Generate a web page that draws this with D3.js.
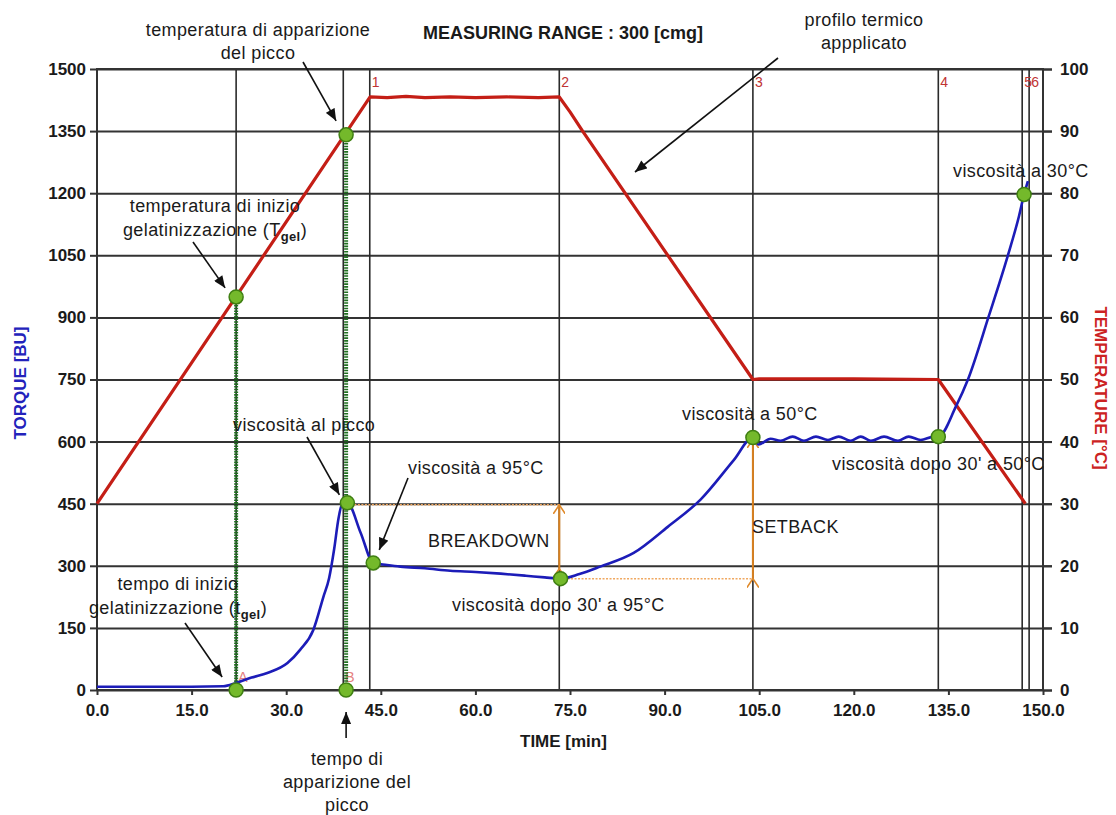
<!DOCTYPE html>
<html>
<head>
<meta charset="utf-8">
<script src="https://cdn.jsdelivr.net/npm/d3@7"></script>
<style>
    body { margin: 0; background: #fff; }
    svg { display: block; }
    text { font-family: "Liberation Sans", Arial, sans-serif; }
    .ann { font-size: 18px; fill: #1a1a1a; letter-spacing: 0.4px; }
    .tick text { font-size: 17px; font-weight: bold; fill: #1a1a1a; }
</style>
</head>
<body>
<svg id="chart" width="1116" height="815"></svg>
<script>
// ticks
let timeTicks = d3.range(0, 151, 15);
let torqueTicks = d3.range(0, 1501, 150);
let tempTicks = d3.range(0, 101, 10);

// event markers on the time axis
let eventTimes = [22.06, 39.05, 43.25, 73.3, 104.0, 133.4, 146.7, 147.8];
let eventLabels = ["A", "B", "1", "2", "3", "4", "5", "6"];

// torque curve (BU)
let torqueTime = [0, 5, 10, 15, 20, 22.06, 24.5, 27, 30.2, 32.2, 34.3, 35.9, 36.8, 37.6, 38.3, 38.9,
    39.7, 41.8, 43.8, 46, 48.1, 52, 56, 60, 64, 68, 71, 73.5, 76.5, 79.8, 85.1,
    90.5, 95.7, 101.0, 104.0, 104.9, 106.8, 108.4, 110.3, 112.1, 114.0, 115.9, 117.6, 119.5, 121.1, 122.7,
    124.8, 127.0, 128.7, 130.6, 132.7, 133.4, 136.2, 138.1, 141.4, 144.4, 146.2, 147.0, 147.6];
let torqueValue = [8, 8, 8, 8, 9, 17, 30, 41, 65, 97, 145, 225, 270, 340, 415, 450,
    452, 380, 307, 302, 298, 294, 288, 285, 281, 276, 272, 269, 280, 298, 331,
    394, 460, 556, 610, 593, 607, 602, 612, 602, 612, 604, 612, 602, 612, 602,
    612, 602, 612, 604, 612, 612, 685, 750, 903, 1048, 1145, 1197, 1229];

// applied temperature profile (°C)
let tempTime = [0, 43.3, 46, 49, 52, 56, 60, 65, 70, 73.3, 75, 77, 104.0, 105.0, 120, 133.4, 147.2];
let tempValue = [30, 95.5, 95.4, 95.6, 95.4, 95.5, 95.4, 95.5, 95.4, 95.5, 93.1, 90.0, 50, 50.1, 50.1, 50, 30];

// gelatinization points (on temperature curve)
let gelTimes = [22.06, 39.5];
let gelTemps = [63.3, 89.4];

// viscosity points (on torque curve)
let pointTimes = [39.7, 43.8, 73.5, 104.0, 133.4, 147.0];
let pointTorque = [452, 307, 269, 610, 612, 1197];

let margin = {left: 97, right: 1043, top: 69, bottom: 690};
let svg = d3.select("#chart");

let x = d3.scaleLinear().domain([0, 150]).range([margin.left, margin.right]);
let y = d3.scaleLinear().domain([0, 1500]).range([margin.bottom, margin.top]);
let yT = d3.scaleLinear().domain([0, 100]).range([margin.bottom, margin.top]);

// arrow heads
let defs = svg.append("defs");
defs.append("marker")
    .attr("id", "head")
    .attr("viewBox", "0 0 12 10")
    .attr("refX", 12).attr("refY", 5)
    .attr("markerWidth", 13).attr("markerHeight", 10)
    .attr("markerUnits", "userSpaceOnUse")
    .attr("orient", "auto")
    .append("path").attr("d", "M0,0 L12,5 L0,10 z").attr("fill", "#111");
defs.append("marker")
    .attr("id", "ohead")
    .attr("viewBox", "0 0 10 12")
    .attr("refX", 9).attr("refY", 6)
    .attr("markerWidth", 10).attr("markerHeight", 12)
    .attr("markerUnits", "userSpaceOnUse")
    .attr("orient", "auto")
    .append("path").attr("d", "M0,0 L9,6 L0,12").attr("fill", "none")
    .attr("stroke", "#e08a2a").attr("stroke-width", 1.6);

// horizontal grid, running past the right border as tick marks
let grid = svg.append("g")
    .attr("transform", "translate(" + margin.left + ",0)")
    .call(d3.axisLeft(y).tickValues(torqueTicks).tickSize(-(margin.right - margin.left + 9)).tickFormat(""));
grid.select(".domain").remove();
grid.selectAll("line").attr("stroke", "#333").attr("stroke-width", 2);

// event lines
svg.append("g").selectAll("line")
    .data(eventTimes)
    .enter().append("line")
    .attr("x1", d => x(d)).attr("x2", d => x(d))
    .attr("y1", margin.top).attr("y2", margin.bottom)
    .attr("stroke", "#2a2a2a").attr("stroke-width", 1.6);

// border
svg.append("rect")
    .attr("x", margin.left).attr("y", margin.top)
    .attr("width", margin.right - margin.left).attr("height", margin.bottom - margin.top)
    .attr("fill", "none").attr("stroke", "#333").attr("stroke-width", 2);

// axes
let leftAxis = svg.append("g")
    .attr("transform", "translate(" + margin.left + ",0)")
    .call(d3.axisLeft(y).tickValues(torqueTicks).tickSize(7).tickPadding(4).tickFormat(d3.format("d")));
let rightAxis = svg.append("g")
    .attr("transform", "translate(" + margin.right + ",0)")
    .call(d3.axisRight(yT).tickValues(tempTicks).tickSize(9).tickPadding(8));
let bottomAxis = svg.append("g")
    .attr("transform", "translate(0," + margin.bottom + ")")
    .call(d3.axisBottom(x).tickValues(timeTicks).tickSize(5).tickPadding(9).tickFormat(d3.format(".1f")));
[leftAxis, rightAxis, bottomAxis].forEach(function(a) {
    a.select(".domain").remove();
    a.selectAll("line").attr("stroke", "#333").attr("stroke-width", 2);
    a.attr("font-family", null).attr("font-size", null);
});

// event numbers
eventLabels.forEach(function(d, i) {
    let bottom = d === "A" || d === "B";
    svg.append("text")
        .attr("x", x(eventTimes[i]) + 2)
        .attr("y", bottom ? 682 : 87)
        .attr("font-size", 14)
        .attr("fill", bottom ? "#e58080" : "#c03333")
        .text(d);
});

// green dotted gel lines
gelTimes.forEach(function(t, i) {
    svg.append("line")
        .attr("x1", x(t)).attr("x2", x(t))
        .attr("y1", yT(gelTemps[i])).attr("y2", margin.bottom)
        .attr("stroke", "#1e6e1e").attr("stroke-width", 4)
        .attr("stroke-dasharray", "1.6 1.1");
});

// breakdown / setback guides
let peak = pointTorque[0], low = pointTorque[2], hold = pointTorque[3];
svg.append("line")
    .attr("x1", x(pointTimes[0])).attr("x2", x(eventTimes[3]))
    .attr("y1", y(peak) + 2).attr("y2", y(peak) + 2)
    .attr("stroke", "#f0a860").attr("stroke-width", 1.5).attr("stroke-dasharray", "2 1.5");
svg.append("line")
    .attr("x1", x(pointTimes[2])).attr("x2", x(eventTimes[4]))
    .attr("y1", y(low)).attr("y2", y(low))
    .attr("stroke", "#f0a860").attr("stroke-width", 1.5).attr("stroke-dasharray", "2 1.5");
svg.append("line")
    .attr("x1", x(eventTimes[3])).attr("x2", x(eventTimes[3]))
    .attr("y1", y(low) - 10).attr("y2", y(peak) + 2)
    .attr("stroke", "#d9801e").attr("stroke-width", 2)
    .attr("marker-start", "url(#ohead)").attr("marker-end", "url(#ohead)");
svg.append("line")
    .attr("x1", x(eventTimes[4])).attr("x2", x(eventTimes[4]))
    .attr("y1", y(low)).attr("y2", y(hold) + 2)
    .attr("stroke", "#d9801e").attr("stroke-width", 2)
    .attr("marker-start", "url(#ohead)").attr("marker-end", "url(#ohead)");

// temperature curve
let tempData = tempTime.map((t, i) => [t, tempValue[i]]);
svg.append("path")
    .datum(tempData)
    .attr("d", d3.line().x(d => x(d[0])).y(d => yT(d[1])))
    .attr("fill", "none").attr("stroke", "#c41e16").attr("stroke-width", 3.2)
    .attr("stroke-linejoin", "round");

// torque curve
let torqueData = torqueTime.map((t, i) => [t, torqueValue[i]]);
svg.append("path")
    .datum(torqueData)
    .attr("d", d3.line().curve(d3.curveMonotoneX).x(d => x(d[0])).y(d => y(d[1])))
    .attr("fill", "none").attr("stroke", "#1c1cb8").attr("stroke-width", 2.6)
    .attr("stroke-linejoin", "round");

// markers
function dot(cx, cy) {
    svg.append("circle")
        .attr("cx", cx).attr("cy", cy).attr("r", 7)
        .attr("fill", "#74b92b").attr("stroke", "#3f7f12").attr("stroke-width", 1.5);
}
gelTimes.forEach(function(t, i) {
    dot(x(t), yT(gelTemps[i]));
    dot(x(t), y(0));
});
pointTimes.forEach(function(t, i) {
    dot(x(t), y(pointTorque[i]));
});

// annotation text
function label(lines, px, py, anchor, cls) {
    let t = svg.append("text").attr("class", cls || "ann").attr("text-anchor", anchor);
    lines.forEach(function(l, i) {
        t.append("tspan").attr("x", px).attr("y", py + i * 23).text(l);
    });
    return t;
}
function subLabel(main, sub, px, py, anchor) {
    let t = svg.append("text").attr("class", "ann").attr("text-anchor", anchor)
        .attr("x", px).attr("y", py);
    t.append("tspan").text(main);
    t.append("tspan").attr("dy", 5).attr("font-size", 13).attr("font-weight", "bold").text("gel");
    t.append("tspan").attr("dy", -5).text(")");
}

label(["temperatura di apparizione", "del picco"], 258, 36, "middle");
label(["profilo termico", "appplicato"], 864, 26, "middle");
label(["temperatura di inizio"], 215, 212, "middle");
subLabel("gelatinizzazione (T", "gel", 215, 236, "middle");
label(["viscosità al picco"], 233, 431, "start");
label(["viscosità a 95°C"], 408, 474, "start");
label(["BREAKDOWN"], 428, 547, "start");
label(["viscosità dopo 30' a 95°C"], 452, 611, "start");
label(["viscosità a 50°C"], 682, 420, "start");
label(["SETBACK"], 752, 533, "start");
label(["viscosità dopo 30' a 50°C"], 832, 470, "start");
label(["viscosità a 30°C"], 953, 177, "start");
label(["tempo di inizio"], 178, 590, "middle");
subLabel("gelatinizzazione (t", "gel", 178, 614, "middle");
label(["tempo di", "apparizione del", "picco"], 347, 765, "middle");

// callout arrows
function arrow(x1, y1, x2, y2) {
    svg.append("line")
        .attr("x1", x1).attr("y1", y1).attr("x2", x2).attr("y2", y2)
        .attr("stroke", "#111").attr("stroke-width", 1.6)
        .attr("marker-end", "url(#head)");
}
arrow(303, 62, x(gelTimes[1]) - 10, yT(gelTemps[1]) - 14);
arrow(778, 58, 635, 172);
arrow(193, 242, x(gelTimes[0]) - 11, yT(gelTemps[0]) - 9);
arrow(307, 437, x(pointTimes[0]) - 8, y(pointTorque[0]) - 8);
arrow(408, 478, x(pointTimes[1]) + 6, y(pointTorque[1]) - 13);
arrow(185, 623, x(gelTimes[0]) - 14, y(0) - 13);
arrow(x(gelTimes[1]), 738, x(gelTimes[1]), y(0) + 22);

// titles
svg.append("text")
    .attr("x", 423).attr("y", 39)
    .attr("font-size", 18).attr("font-weight", "bold").attr("fill", "#1a1a1a")
    .text("MEASURING RANGE : 300 [cmg]");
svg.append("text")
    .attr("x", 520).attr("y", 747)
    .attr("font-size", 17).attr("font-weight", "bold").attr("fill", "#1a1a1a")
    .text("TIME [min]");
svg.append("text")
    .attr("transform", "translate(26,383) rotate(-90)")
    .attr("text-anchor", "middle")
    .attr("font-size", 17).attr("font-weight", "bold").attr("fill", "#2222bb")
    .text("TORQUE [BU]");
svg.append("text")
    .attr("transform", "translate(1095,388) rotate(90)")
    .attr("text-anchor", "middle")
    .attr("font-size", 17).attr("font-weight", "bold").attr("fill", "#cc2222")
    .text("TEMPERATURE [°C]");
</script>
</body>
</html>
